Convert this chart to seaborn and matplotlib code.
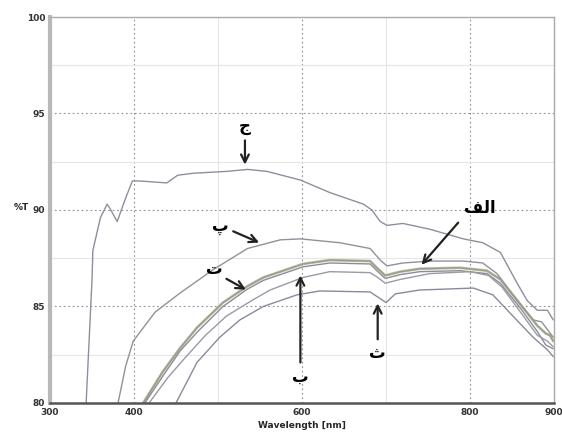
import numpy as np
import pandas as pd
import matplotlib
matplotlib.use("Agg")
import matplotlib.pyplot as plt
import seaborn as sns

# transmission curves (wavelength nm, %T)
jim_wl = [343, 350, 351, 360, 368, 371, 380, 389, 398, 407, 439, 452, 470, 511, 535, 558, 598, 633,
          673, 683, 693, 701, 720, 752, 792, 815, 836, 856, 868, 880, 892, 899]
jim_t = [80.0, 86.4, 87.9, 89.6, 90.3, 90.1, 89.4, 90.5, 91.5, 91.5, 91.4, 91.8, 91.9, 92.0, 92.1, 92.0,
         91.55, 90.9, 90.3, 90.0, 89.4, 89.2, 89.3, 89.0, 88.5, 88.3, 87.8, 86.2, 85.3, 84.8, 84.8, 84.3]

pe_wl = [381, 390, 399, 425, 455, 494, 535, 574, 598, 645, 681, 693, 701, 720, 752, 792, 815, 832, 856,
         875, 885, 892, 899]
pe_t = [80.0, 81.9, 83.2, 84.7, 85.7, 86.9, 88.0, 88.45, 88.5, 88.3, 88.0, 87.4, 87.1, 87.25, 87.35,
        87.35, 87.25, 86.7, 85.3, 84.3, 84.2, 83.8, 83.4]

alef_wl = [411, 434, 455, 475, 506, 535, 554, 601, 633, 681, 689, 699, 717, 740, 788, 820, 836, 860,
           880, 890, 895, 899]
alef_t = [80.0, 81.6, 82.85, 83.9, 85.2, 86.05, 86.5, 87.2, 87.4, 87.35, 87.0, 86.6, 86.8, 86.95, 87.0,
          86.85, 86.4, 85.1, 84.0, 83.6, 83.5, 83.2]

te_wl = [413, 436, 455, 477, 506, 535, 554, 601, 633, 681, 689, 699, 717, 740, 788, 820, 836, 860, 880,
         890, 899]
te_t = [80.0, 81.5, 82.7, 83.75, 85.0, 85.9, 86.35, 87.05, 87.25, 87.2, 86.85, 86.45, 86.65, 86.8,
        86.85, 86.7, 86.2, 84.9, 83.7, 83.0, 82.8]

be_wl = [418, 440, 460, 485, 510, 540, 562, 601, 633, 681, 690, 699, 717, 752, 800, 822, 838, 860, 880,
         892, 899]
be_t = [80.0, 81.3, 82.3, 83.5, 84.5, 85.3, 85.85, 86.5, 86.8, 86.75, 86.5, 86.2, 86.4, 86.7, 86.8,
        86.6, 86.0, 84.7, 83.5, 83.2, 82.9]

se_wl = [450, 475, 502, 526, 554, 594, 621, 681, 693, 700, 711, 740, 804, 827, 852, 875, 892, 899]
se_t = [80.0, 82.1, 83.4, 84.3, 85.0, 85.6, 85.8, 85.75, 85.4, 85.2, 85.65, 85.85, 85.95, 85.6, 84.45,
        83.4, 82.75, 82.4]

x_ticks = [300, 400, 600, 800, 900]
y_ticks = [80, 85, 90, 95, 100]

curves = {"jim": (jim_wl, jim_t), "pe": (pe_wl, pe_t), "alef": (alef_wl, alef_t),
          "te": (te_wl, te_t), "be": (be_wl, be_t), "se": (se_wl, se_t)}
frames = []
for name, (wl, t) in curves.items():
    frames.append(pd.DataFrame({"wl": wl, "T": t, "sample": name}))
df = pd.concat(frames, ignore_index=True)

colors = {"jim": "#8d909c", "pe": "#8f929a", "alef": "#9a9c86", "te": "#8a8d95",
          "be": "#989ba6", "se": "#878b9a"}

sns.set_style("white")
fig = plt.figure(figsize=(5.62, 4.36), dpi=100)
ax = fig.add_axes([0.089, 0.076, 0.897, 0.885])

sns.lineplot(data=df, x="wl", y="T", hue="sample", palette=colors, estimator=None,
             sort=False, legend=False, linewidth=1.0, ax=ax)
# the two near-identical samples look thicker in the scan
ax.plot(alef_wl, alef_t, color="#c0c2b0", lw=2.0, zorder=1)

ax.set_xlim(300, 900)
ax.set_ylim(80, 100)
ax.set_xticks(x_ticks)
ax.set_yticks(y_ticks)
ax.set_xticks([500, 700], minor=True)
ax.set_yticks([82.5, 87.5, 92.5, 97.5], minor=True)
ax.grid(which="major", color="#8f8f8f", linestyle=(0, (1.5, 2.5)), lw=0.8)
ax.grid(which="minor", color="#e6e6e6", linestyle="-", lw=0.8)
ax.tick_params(which="both", direction="in", length=3, width=0.8, color="#555555",
               labelsize=6.5, labelcolor="#333333")
for lab in ax.get_xticklabels() + ax.get_yticklabels():
    lab.set_fontweight("bold")

for side in ["top", "right"]:
    ax.spines[side].set_color("#aaaaaa")
    ax.spines[side].set_linewidth(1.0)
ax.spines["left"].set_color("#b8b8b8")
ax.spines["left"].set_linewidth(3.0)
ax.spines["bottom"].set_color("#555555")
ax.spines["bottom"].set_linewidth(1.8)

ax.set_xlabel("Wavelength [nm]", fontsize=6.5, fontweight="bold", labelpad=3)
ax.set_ylabel("%T", fontsize=6.5, fontweight="bold", rotation=0)
ax.yaxis.set_label_coords(-0.056, 0.495)

arab = dict(fontsize=12, fontweight="bold", color="black", ha="center", va="center",
            family=["DejaVu Sans"])
arrow = dict(arrowstyle="->", color="#222222", lw=1.6, mutation_scale=14)

ax.text(532, 94.35, "ج", **arab)
ax.annotate("", xy=(532, 92.2), xytext=(532, 93.75), arrowprops=arrow)

ax.text(503, 89.15, "پ", **arab)
ax.annotate("", xy=(552, 88.25), xytext=(515, 88.95), arrowprops=arrow)

ax.text(495, 86.95, "ت", **arab)
ax.annotate("", xy=(536, 85.8), xytext=(507, 86.5), arrowprops=arrow)

ax.text(598, 81.35, "ب", **arab)
ax.annotate("", xy=(598, 86.75), xytext=(598, 81.95), arrowprops=arrow)

ax.text(690, 82.6, "ث", **arab)
ax.annotate("", xy=(690, 85.3), xytext=(690, 83.15), arrowprops=arrow)

ax.text(812, 90.1, "\uFED2\uFEDF\uFE8D", **arab)
ax.annotate("", xy=(740, 87.05), xytext=(788, 89.45), arrowprops=arrow)

fig.savefig("out.png", dpi=100)
